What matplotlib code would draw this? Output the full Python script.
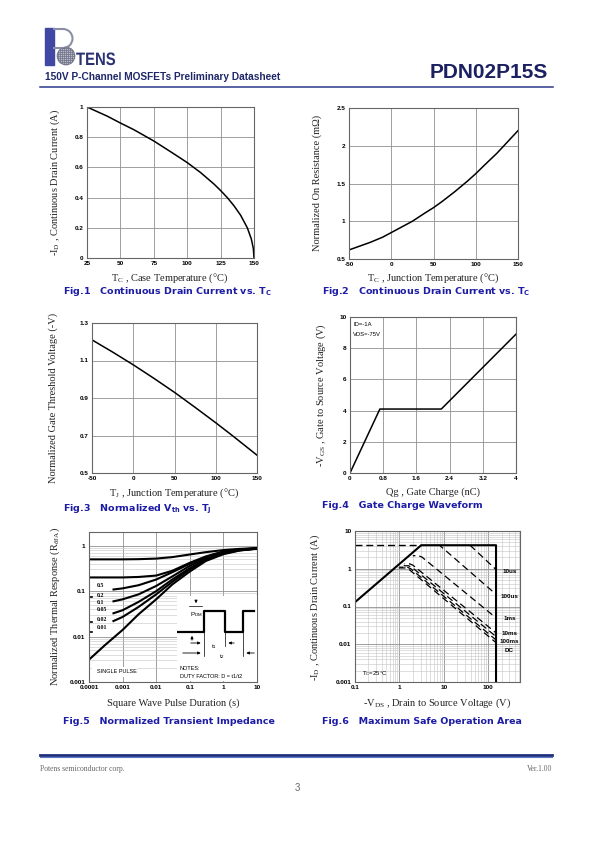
import matplotlib
matplotlib.use("Agg")
import matplotlib.pyplot as plt
from matplotlib.patches import Rectangle, Circle, Arc, PathPatch
from matplotlib.textpath import TextPath
from matplotlib.font_manager import FontProperties
from matplotlib.transforms import Affine2D
from matplotlib.ticker import LogLocator, NullFormatter

plt.rcParams['font.family'] = ['Liberation Serif', 'DejaVu Serif']
plt.rcParams['mathtext.fontset'] = 'custom'
plt.rcParams['mathtext.rm'] = 'Liberation Serif'
plt.rcParams['mathtext.it'] = 'Liberation Serif:italic'
plt.rcParams['mathtext.bf'] = 'DejaVu Sans:bold'
plt.rcParams['mathtext.sf'] = 'Liberation Sans'

W, H = 595, 842

# Fig.1  -Id vs Tc
fig1_tc = [25, 40, 50, 60, 75, 90, 100, 110, 120, 125, 130, 135, 140, 145, 148, 149.5, 150]
fig1_id = [1.0, 0.94, 0.894, 0.85, 0.775, 0.69, 0.632, 0.566, 0.49, 0.447, 0.40, 0.346,
           0.283, 0.20, 0.126, 0.063, 0.0]

# Fig.2  normalized Rds(on) vs Tj
fig2_tj = [-50, -40, -25, -10, 0, 10, 25, 40, 50, 60, 75, 90, 100, 110, 125, 140, 150]
fig2_r = [0.62, 0.66, 0.72, 0.79, 0.85, 0.91, 1.0, 1.11, 1.18, 1.26, 1.39, 1.53, 1.63,
          1.74, 1.9, 2.08, 2.2]

# Fig.3  normalized Vth vs Tj
fig3_tj = [-50, -25, 0, 25, 50, 75, 100, 120, 150]
fig3_vth = [1.21, 1.145, 1.077, 1.005, 0.93, 0.85, 0.768, 0.70, 0.595]

# Fig.4  gate charge
fig4_qg = [0, 0.72, 2.2, 4.0]
fig4_vgs = [0, 4.1, 4.1, 8.9]

# Fig.5  transient thermal impedance
t_full = [1e-4, 1e-3, 3e-3, 0.01, 0.03, 0.1, 0.3, 1, 3, 10]
z_d05 = [0.50, 0.50, 0.505, 0.52, 0.56, 0.64, 0.72, 0.80, 0.85, 0.88]
z_d02 = [0.20, 0.20, 0.205, 0.22, 0.28, 0.42, 0.58, 0.75, 0.83, 0.88]
t_part = [5e-4, 1e-3, 3e-3, 0.01, 0.03, 0.1, 0.3, 1, 3, 10]
z_d01 = [0.108, 0.115, 0.135, 0.18, 0.26, 0.40, 0.56, 0.73, 0.82, 0.87]
z_d005 = [0.059, 0.066, 0.085, 0.13, 0.21, 0.36, 0.53, 0.71, 0.81, 0.87]
z_d002 = [0.032, 0.038, 0.058, 0.10, 0.18, 0.32, 0.50, 0.69, 0.80, 0.86]
z_d001 = [0.0215, 0.027, 0.045, 0.085, 0.16, 0.30, 0.48, 0.67, 0.79, 0.86]
t_single = [1e-4, 3e-4, 1e-3, 3e-3, 0.01, 0.03, 0.1, 0.3, 1, 3, 10]
z_single = [0.0031, 0.0065, 0.014, 0.031, 0.066, 0.14, 0.27, 0.46, 0.65, 0.78, 0.86]
duty_labels = ['0.5', '0.2', '0.1', '0.05', '0.02', '0.01']
duty_label_y = [0.13, 0.082, 0.056, 0.0385, 0.024, 0.0157]

# Fig.6  safe operating area
soa_v = [0.1, 3.1, 150, 150]
soa_i = [0.13, 4.2, 4.2, 0.001]
lim_v = [0.1, 3.1]
lim_i = [4.2, 4.2]
pulse_names = ['10us', '100us', '1ms', '10ms', '100ms', 'DC']
pulse_v = [[39, 150], [8, 150], [2.0, 2.6, 3.2, 150], [1.3, 1.7, 2.0, 150],
           [1.1, 1.6, 1.9, 150], [0.95, 1.4, 1.7, 150]]
pulse_i = [[4.2, 0.95], [4.2, 0.21], [2.2, 2.25, 2.05, 0.05], [1.35, 1.35, 1.25, 0.02],
           [1.2, 1.2, 1.1, 0.016], [1.05, 1.05, 0.93, 0.011]]
extra_v = [1.0, 1.5, 1.8, 150]
extra_i = [1.1, 1.1, 1.0, 0.013]
pulse_label_y = [0.86, 0.18, 0.048, 0.0188, 0.0121, 0.0068]

fig = plt.figure(figsize=(W / 100, H / 100), dpi=100)


def place(x0, y0, x1, y1):
    return fig.add_axes([x0 / W, 1 - y1 / H, (x1 - x0) / W, (y1 - y0) / H])


def ftext(x, y, s, **kw):
    return fig.text(x / W, 1 - y / H, s, **kw)


TICK = dict(fontsize=4.6, fontweight='bold', family='Liberation Sans')
LAB = dict(fontsize=7.5, family='Liberation Serif', color='#222222')
CAP = dict(fontsize=6.8, fontweight='bold', family='DejaVu Sans', color='#1c1ca6',
           va='center', ha='left')


def style(ax, xt, xl, yt, yl, log=False):
    ax.set_xticks(xt, xl, **TICK)
    ax.set_yticks(yt, yl, **TICK)
    ax.tick_params(length=0, pad=2.5)
    for sp in ax.spines.values():
        sp.set_color('#666666')
        sp.set_linewidth(0.8)
    ax.grid(True, which='major', color='#8f8f8f', lw=0.6)
    if log:
        ax.xaxis.set_minor_locator(LogLocator(base=10, subs=range(2, 10)))
        ax.yaxis.set_minor_locator(LogLocator(base=10, subs=range(2, 10)))
        ax.xaxis.set_minor_formatter(NullFormatter())
        ax.yaxis.set_minor_formatter(NullFormatter())
        ax.tick_params(which='minor', length=0)
        ax.grid(True, which='minor', color='#c4c4c4', lw=0.4)
    ax.set_axisbelow(True)


# ---------- header ----------
logo = place(40, 25, 125, 70)
logo.set_xlim(40, 125)
logo.set_ylim(70, 25)
logo.axis('off')
logo.add_patch(Rectangle((45, 28), 9, 37, color='#4048a4'))
logo.plot([54, 63], [29, 29], color='#8a8ea6', lw=1.5)
logo.plot([54, 63], [48, 48], color='#8a8ea6', lw=1.5)
logo.add_patch(Arc((63, 38.5), 19, 19, theta1=-90, theta2=90, color='#8a8ea6', lw=1.5))
globe = Circle((66, 56), 8.8, facecolor='#b9bbc8', edgecolor='#7d8094', lw=0.8)
logo.add_patch(globe)
for k in range(-5, 6):
    for seg in ([[66 + 2 * k] * 2, [46, 66]], [[56, 76], [56 + 2 * k] * 2]):
        ln, = logo.plot(seg[0], seg[1], color='#6d7086', lw=0.5)
        ln.set_clip_path(globe)
tp = TextPath((0, 0), 'TENS', size=24,
              prop=FontProperties(family='Liberation Sans', weight='bold'))
tp = Affine2D().scale(0.62, -0.75).translate(76, 65).transform_path(tp)
logo.add_patch(PathPatch(tp, facecolor='#2a3272', edgecolor='none'))

ftext(45, 77, '150V P-Channel MOSFETs Preliminary Datasheet', fontsize=7.3,
      fontweight='bold', family='Liberation Sans', color='#1f2868', va='center')
ftext(548, 73, 'PDN02P15S', fontsize=15, fontweight='bold', family='Liberation Sans',
      color='#1b2060', va='center', ha='right')
fig.add_artist(plt.Line2D([40 / W, 553 / W], [1 - 87 / H] * 2, color='#2b3a8c', lw=1.1))

# ---------- Fig.1 ----------
ax1 = place(87, 107, 254, 258)
ax1.plot(fig1_tc, fig1_id, color='black', lw=1.1)
ax1.set_xlim(25, 150)
ax1.set_ylim(0, 1)
style(ax1, [25, 50, 75, 100, 125, 150], ['25', '50', '75', '100', '125', '150'],
      [0, 0.2, 0.4, 0.6, 0.8, 1], ['0', '0.2', '0.4', '0.6', '0.8', '1'])
ftext(170, 278, r'T$_\mathrm{C}$ , Case Temperature (°C)', ha='center', va='center', **LAB)
ftext(55, 182, r'-I$_\mathrm{D}$ , Continuous Drain Current (A)', ha='center', va='center',
      rotation=90, **LAB)
ftext(63, 292, r'Fig.1   Continuous Drain Current vs. T$_\mathbf{C}$', **CAP)

# ---------- Fig.2 ----------
ax2 = place(349, 108, 518, 259)
ax2.plot(fig2_tj, fig2_r, color='black', lw=1.1)
ax2.set_xlim(-50, 150)
ax2.set_ylim(0.5, 2.5)
style(ax2, [-50, 0, 50, 100, 150], ['-50', '0', '50', '100', '150'],
      [0.5, 1, 1.5, 2, 2.5], ['0.5', '1', '1.5', '2', '2.5'])
ftext(433, 278, r'T$_\mathrm{C}$ , Junction Temperature (°C)', ha='center', va='center', **LAB)
ftext(317, 183, 'Normalized On Resistance (m\u03a9)', ha='center', va='center',
      rotation=90, **LAB)
ftext(322, 292, r'Fig.2   Continuous Drain Current vs. T$_\mathbf{C}$', **CAP)

# ---------- Fig.3 ----------
ax3 = place(92, 323, 257, 473)
ax3.plot(fig3_tj, fig3_vth, color='black', lw=1.1)
ax3.set_xlim(-50, 150)
ax3.set_ylim(0.5, 1.3)
style(ax3, [-50, 0, 50, 100, 150], ['-50', '0', '50', '100', '150'],
      [0.5, 0.7, 0.9, 1.1, 1.3], ['0.5', '0.7', '0.9', '1.1', '1.3'])
ftext(174, 493, r'T$_\mathrm{J}$ , Junction Temperature (°C)', ha='center', va='center', **LAB)
ftext(53, 398, 'Normalized Gate Threshold Voltage (-V)', ha='center', va='center',
      rotation=90, **LAB)
ftext(63, 509, r'Fig.3   Normalized V$_\mathbf{th}$ vs. T$_\mathbf{J}$', **CAP)

# ---------- Fig.4 ----------
ax4 = place(350, 317, 516, 473)
ax4.plot(fig4_qg, fig4_vgs, color='black', lw=1.1)
ax4.set_xlim(0, 4)
ax4.set_ylim(0, 10)
style(ax4, [0, 0.8, 1.6, 2.4, 3.2, 4], ['0', '0.8', '1.6', '2.4', '3.2', '4'],
      [0, 2, 4, 6, 8, 10], ['0', '2', '4', '6', '8', '10'])
ax4.text(0.02, 0.95, 'ID=-1A', transform=ax4.transAxes, fontsize=4.2,
         family='Liberation Sans', va='center')
ax4.text(0.02, 0.885, 'VDS=-75V', transform=ax4.transAxes, fontsize=4.2,
         family='Liberation Sans', va='center')
ftext(433, 492, 'Qg , Gate Charge (nC)', ha='center', va='center', **LAB)
ftext(321, 395, r'-V$_\mathrm{GS}$ , Gate to Source Voltage (V)', ha='center', va='center',
      rotation=90, **LAB)
ftext(322, 505, 'Fig.4   Gate Charge Waveform', **CAP)

# ---------- Fig.5 ----------
ax5 = place(89, 532, 257, 682)
ax5.set_xscale('log')
ax5.set_yscale('log')
for tt, zz in [(t_full, z_d05), (t_full, z_d02), (t_part, z_d01), (t_part, z_d005),
               (t_part, z_d002), (t_part, z_d001), (t_single, z_single)]:
    ax5.plot(tt, zz, color='black', lw=1.5, solid_capstyle='butt')
ax5.set_xlim(1e-4, 10)
ax5.set_ylim(1e-3, 2)
style(ax5, [1e-4, 1e-3, 1e-2, 0.1, 1, 10], ['0.0001', '0.001', '0.01', '0.1', '1', '10'],
      [1e-3, 1e-2, 0.1, 1], ['0.001', '0.01', '0.1', '1'], log=True)
for lab, yy in zip(duty_labels, duty_label_y):
    ax5.text(1.75e-4, yy, lab, fontsize=4.2, fontweight='bold', family='Liberation Serif',
             va='center', ha='left')
for yy in [0.075, 0.021, 0.0125]:
    ax5.plot([1.05e-4, 1.2e-4], [yy, yy], color='black', lw=1.2)
ax5.add_patch(Rectangle((0.016, 0.035), 0.268, 0.067, transform=ax5.transAxes,
                        facecolor='white', edgecolor='none', zorder=2))
ax5.text(0.05, 0.069, 'SINGLE PULSE', transform=ax5.transAxes, fontsize=4.0,
         family='Liberation Sans', va='center', ha='left', zorder=3)

ins = place(177, 596, 257, 681)
ins.set_xlim(0, 80)
ins.set_ylim(85, 0)
ins.axis('off')
ins.add_patch(Rectangle((0, 0), 80, 85, facecolor='white', edgecolor='none'))
ins.plot([0, 27, 27, 48, 48, 66, 66, 77], [36, 36, 15, 15, 36, 36, 15, 15],
         color='black', lw=1.6)
arr = dict(arrowstyle='-|>', color='black', lw=0.6, mutation_scale=4)
ins.annotate('', xy=(19, 10), xytext=(19, 2), arrowprops=arr)
ins.plot([12, 25], [10, 10], color='black', lw=0.5)
ins.annotate('', xy=(15, 37), xytext=(15, 47), arrowprops=arr)
ins.annotate('', xy=(26.5, 47), xytext=(11, 47), arrowprops=arr)
ins.annotate('', xy=(48.5, 47), xytext=(60, 47), arrowprops=arr)
ins.annotate('', xy=(26.5, 57), xytext=(3, 57), arrowprops=arr)
ins.annotate('', xy=(66.5, 57), xytext=(80, 57), arrowprops=arr)
for xx, y1 in [(27, 60), (48, 50), (66, 60)]:
    ins.plot([xx, xx], [36, y1], color='black', lw=0.5)
ins.text(19, 19, r'$\mathsf{P_{DM}}$', fontsize=4.5, ha='center', va='center')
ins.text(37, 51, r'$\mathsf{t_1}$', fontsize=4.5, ha='center', va='center')
ins.text(45, 61, r'$\mathsf{t_2}$', fontsize=4.5, ha='center', va='center')
ins.text(3, 72, 'NOTES:', fontsize=4.0, family='Liberation Sans', va='center')
ins.text(3, 81, 'DUTY FACTOR: D = t1/t2', fontsize=4.0, family='Liberation Sans',
         va='center')

ftext(173, 703, 'Square Wave Pulse Duration (s)', ha='center', va='center', **LAB)
ftext(55, 607, r'Normalized Thermal Response (R$_{\theta\mathrm{JA}}$)', ha='center',
      va='center', rotation=90, **LAB)
ftext(63, 721, 'Fig.5   Normalized Transient Impedance', **CAP)

# ---------- Fig.6 ----------
ax6 = place(355, 531, 520, 682)
ax6.set_xscale('log')
ax6.set_yscale('log')
ax6.plot(lim_v, lim_i, color='black', lw=1.0, linestyle=(0, (5, 2.8)))
for k, (vv, ii) in enumerate(zip(pulse_v, pulse_i)):
    ax6.plot(vv, ii, color='black', lw=0.9, linestyle=(1.7 * k, (5.5, 3.2)))
ax6.plot(extra_v, extra_i, color='black', lw=0.9, linestyle=(2.4, (5.5, 3.2)))
ax6.plot(soa_v, soa_i, color='black', lw=1.5)
ax6.set_xlim(0.1, 520)
ax6.set_ylim(1e-3, 10)
style(ax6, [0.1, 1, 10, 100], ['0.1', '1', '10', '100'],
      [1e-3, 1e-2, 0.1, 1, 10], ['0.001', '0.01', '0.1', '1', '10'], log=True)
for name, yy in zip(pulse_names, pulse_label_y):
    ax6.text(300, yy, name, fontsize=4.5, fontweight='bold', family='Liberation Sans',
             ha='center', va='center')
ax6.text(0.04, 0.055, r'T$_\mathsf{C}$=25°C', transform=ax6.transAxes, fontsize=4.3,
         family='Liberation Sans', va='center')
ftext(437, 703, r'-V$_\mathrm{DS}$ , Drain to Source Voltage (V)', ha='center', va='center',
      **LAB)
ftext(315, 607, r'-I$_\mathrm{D}$ , Continuous Drain Current (A)', ha='center',
      va='center', rotation=90, **LAB)
ftext(322, 721, 'Fig.6   Maximum Safe Operation Area', **CAP)

# ---------- footer ----------
fig.add_artist(plt.Line2D([40 / W, 552 / W], [1 - 754.5 / H] * 2, color='#1f2f7c', lw=2.0))
fig.add_artist(plt.Line2D([40 / W, 552 / W], [1 - 756.5 / H] * 2, color='#5a78c8', lw=0.8))
ftext(40, 769, 'Potens semiconductor corp.', fontsize=5.5, color='#666666', va='center')
ftext(552, 769, 'Ver.1.00', fontsize=5.5, color='#666666', va='center', ha='right')
ftext(297, 788, '3', fontsize=7, family='Liberation Sans', color='#666666', va='center',
      ha='center')

fig.savefig('out.png', dpi=100)
